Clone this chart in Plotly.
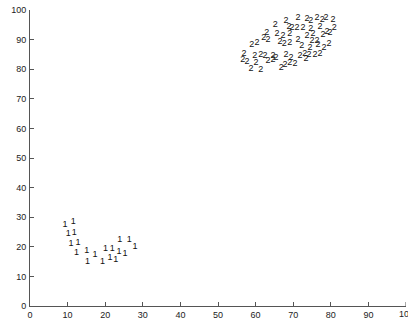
import plotly.graph_objects as go

# Cluster 1 points (labelled "1")
c1_x = [9.3, 11.5, 10.2, 11.8, 10.9, 12.8, 12.4, 15.1, 15.3, 17.3,
        19.3, 20.1, 21.9, 21.3, 22.8, 23.7, 25.3, 23.9, 26.4, 27.9]
c1_y = [27.4, 28.3, 24.3, 24.9, 21.2, 21.5, 18.1, 18.7, 15.0, 17.2,
        15.0, 19.5, 19.5, 16.3, 15.5, 18.3, 17.8, 22.3, 22.3, 20.0]

# Cluster 2 points (labelled "2")
c2_x = [68.1, 71.3, 73.7, 74.7, 76.3, 77.7, 78.7, 80.6,
        65.2, 68.9, 69.7, 71.0, 72.6, 74.7, 77.1, 79.0, 80.9,
        63.0, 65.7, 67.3, 69.1, 73.7, 75.3, 77.9, 79.8,
        59.0, 60.4, 62.2, 63.3, 66.5, 67.6, 69.1, 71.3, 72.3, 74.5, 75.0, 76.3, 76.6, 78.2, 79.5,
        56.9, 59.8, 61.4, 62.5, 64.6, 68.1, 69.4, 71.8, 73.1, 74.2, 75.8, 77.1,
        56.6, 57.7, 60.1, 63.3, 64.6, 65.4, 67.8, 69.1, 70.5, 73.4,
        58.8, 61.4, 66.8]
c2_y = [96.3, 97.3, 97.0, 96.3, 97.3, 96.6, 97.3, 96.6,
        94.9, 94.3, 93.9, 93.9, 93.9, 93.6, 94.3, 92.6, 93.9,
        92.2, 91.9, 91.2, 91.9, 91.2, 91.9, 91.6, 92.2,
        88.2, 88.9, 90.5, 89.9, 89.2, 88.5, 88.9, 89.9, 87.8, 87.2, 89.5, 89.5, 88.2, 87.2, 88.5,
        85.1, 84.5, 84.8, 84.5, 84.5, 84.8, 83.8, 84.5, 85.1, 84.8, 84.8, 85.1,
        83.1, 82.4, 82.1, 82.8, 83.1, 83.8, 81.4, 82.1, 81.8, 83.4,
        80.1, 79.7, 80.4]

x_ticks = list(range(0, 101, 10))
y_ticks = list(range(0, 101, 10))

font_family = "Liberation Sans, Arial"

fig = go.Figure()
fig.add_trace(go.Scatter(x=c1_x, y=c1_y, mode="text", text=["1"] * len(c1_x),
                         textposition="middle center",
                         textfont=dict(family=font_family, size=9, color="#111"),
                         hoverinfo="skip", showlegend=False, cliponaxis=False))
fig.add_trace(go.Scatter(x=c2_x, y=c2_y, mode="text", text=["2"] * len(c2_x),
                         textposition="middle center",
                         textfont=dict(family=font_family, size=9, color="#111"),
                         hoverinfo="skip", showlegend=False, cliponaxis=False))

axis_common = dict(range=[0, 100], showgrid=False, zeroline=False, showline=True,
                   linecolor="#555", linewidth=1, ticks="inside", ticklen=4,
                   tickcolor="#555", automargin=False,
                   tickfont=dict(family=font_family, size=9, color="#222"))
fig.update_xaxes(tickvals=x_ticks[:-1], ticklabelstandoff=0, **axis_common)
fig.update_yaxes(tickvals=y_ticks, ticklabelstandoff=1, **axis_common)

# last x tick label (partly cut at the right edge, as in the reference)
fig.add_annotation(x=x_ticks[-1], y=0, xref="x", yref="paper", yanchor="top",
                   text=str(x_ticks[-1]), showarrow=False, yshift=-1,
                   font=dict(family=font_family, size=9, color="#222"))
fig.add_shape(type="line", xref="x", yref="paper", x0=100, x1=100, y0=0, y1=0.0135,
              line=dict(color="#555", width=1))

fig.update_layout(width=408, height=319,
                  margin=dict(l=30, r=2, t=10, b=13, autoexpand=False),
                  plot_bgcolor="white", paper_bgcolor="white", showlegend=False)

fig.write_html("out.html", config={"displayModeBar": False},
               post_script="document.body.style.margin='0';document.body.style.overflow='hidden';")
